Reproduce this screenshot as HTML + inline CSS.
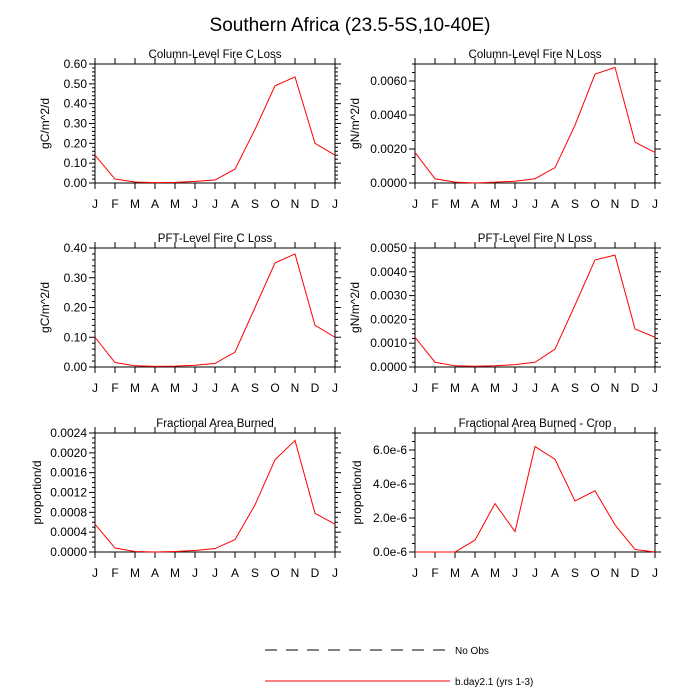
<!DOCTYPE html>
<html><head><meta charset="utf-8"><style>
body{margin:0;background:#fff;font-family:"Liberation Sans",sans-serif}
svg{display:block}
</style></head><body>
<svg id="c" width="700" height="700" xmlns="http://www.w3.org/2000/svg">
<text x="350" y="31" text-anchor="middle" font-size="19">Southern Africa (23.5-5S,10-40E)</text>
<g>
<line x1="265" y1="650" x2="450" y2="650" stroke="#000" stroke-dasharray="12,9"/>
<text x="455" y="654" font-size="10">No Obs</text>
<line x1="265" y1="681" x2="450" y2="681" stroke="#f00"/>
<text x="455" y="685" font-size="10">b.day2.1 (yrs 1-3)</text>
</g>
</svg>
<script>
const months = ["J","F","M","A","M","J","J","A","S","O","N","D","J"];
const colC = [0.14,0.02,0.005,0.002,0.003,0.008,0.015,0.07,0.27,0.49,0.535,0.20,0.14];
const colN = [0.0018,0.00025,0.00005,0.0,0.00005,0.0001,0.00025,0.0009,0.0034,0.0064,0.0068,0.0024,0.0018];
const pftC = [0.10,0.015,0.004,0.002,0.003,0.006,0.012,0.05,0.20,0.35,0.38,0.14,0.10];
const pftN = [0.00125,0.0002,0.00005,0.00003,0.00005,0.0001,0.0002,0.00075,0.0026,0.0045,0.0047,0.0016,0.00125];
const fracArea = [0.00056,0.00008,0.00001,0.0,0.00001,0.00003,0.00007,0.00025,0.00095,0.00186,0.00225,0.00078,0.00056];
const cropArea = [0,0,0,0.7e-6,2.85e-6,1.2e-6,6.2e-6,5.45e-6,3.0e-6,3.6e-6,1.6e-6,0.15e-6,0];
const colCTicks = ["0.00","0.10","0.20","0.30","0.40","0.50","0.60"];
const colNTicks = ["0.0000","0.0020","0.0040","0.0060"];
const pftCTicks = ["0.00","0.10","0.20","0.30","0.40"];
const pftNTicks = ["0.0000","0.0010","0.0020","0.0030","0.0040","0.0050"];
const fracTicks = ["0.0000","0.0004","0.0008","0.0012","0.0016","0.0020","0.0024"];
const cropTicks = ["0.0e-6","2.0e-6","4.0e-6","6.0e-6"];

const NS="http://www.w3.org/2000/svg";
const svg=document.getElementById('c');
function mk(t,a,p){const e=document.createElementNS(NS,t);for(const k in a)e.setAttribute(k,a[k]);(p||svg).appendChild(e);return e;}
const panels=[
 {x:95,y:64,title:"Column-Level Fire C Loss",yl:"gC/m^2/d",data:colC,ticks:colCTicks,step:0.1,max:0.6,minor:5,name:"column-c",yo:50},
 {x:415,y:64,title:"Column-Level Fire N Loss",yl:"gN/m^2/d",data:colN,ticks:colNTicks,step:0.002,max:0.007,minor:4,name:"column-n",yo:60},
 {x:95,y:248,title:"PFT-Level Fire C Loss",yl:"gC/m^2/d",data:pftC,ticks:pftCTicks,step:0.1,max:0.4,minor:5,name:"pft-c",yo:50},
 {x:415,y:248,title:"PFT-Level Fire N Loss",yl:"gN/m^2/d",data:pftN,ticks:pftNTicks,step:0.001,max:0.005,minor:5,name:"pft-n",yo:60},
 {x:95,y:433,title:"Fractional Area Burned",yl:"proportion/d",data:fracArea,ticks:fracTicks,step:0.0004,max:0.0024,minor:4,name:"frac-area",yo:58},
 {x:415,y:433,title:"Fractional Area Burned - Crop",yl:"proportion/d",data:cropArea,ticks:cropTicks,step:2e-6,max:7e-6,minor:4,name:"crop-area",yo:58}
];
const W=240,H=119;
panels.forEach(p=>{
 const g=mk('g',{});
 
 
 const xs=i=>p.x+i*W/(months.length-1);
 const ys=v=>p.y+H-v/p.max*H;
 const t=mk('text',{x:p.x+W/2,y:p.y-6,'text-anchor':'middle','font-size':11.5},g);t.textContent=p.title;
 
 const yl=mk('text',{x:0,y:0,'text-anchor':'middle','font-size':12,transform:`translate(${p.x-p.yo+4},${p.y+H/2}) rotate(-90)`},g);yl.textContent=p.yl;
 
 months.forEach((m,i)=>{
  const x=xs(i);
  mk('line',{x1:x,x2:x,y1:p.y+H,y2:p.y+H+6,stroke:'#000','stroke-width':1},g);
  mk('line',{x1:x,x2:x,y1:p.y,y2:p.y-6,stroke:'#000','stroke-width':1},g);
  const l=mk('text',{x:x,y:p.y+H+25,'text-anchor':'middle','font-size':12},g);l.textContent=m;
  
 });
 const mstep=p.step/p.minor;
 for(let k=0;k*mstep<=p.max+1e-12;k++){
  const y=ys(k*mstep);const maj=k%p.minor===0;const len=maj?6:3;
  mk('line',{x1:p.x,x2:p.x-len,y1:y,y2:y,stroke:'#000','stroke-width':1},g);
  mk('line',{x1:p.x+W,x2:p.x+W+len,y1:y,y2:y,stroke:'#000','stroke-width':1},g);
 }
 p.ticks.forEach((s,i)=>{
  const l=mk('text',{x:p.x-8,y:ys(i*p.step)+4,'text-anchor':'end','font-size':12},g);l.textContent=s;
  
 });
 const r=mk('rect',{x:p.x,y:p.y,width:W,height:H,fill:'none',stroke:'#000','stroke-width':1},g);
 
 const pl=mk('polyline',{points:p.data.map((v,i)=>xs(i)+','+ys(v)).join(' '),fill:'none',stroke:'#f00','stroke-width':1},g);
 
});
</script>
</body></html>
